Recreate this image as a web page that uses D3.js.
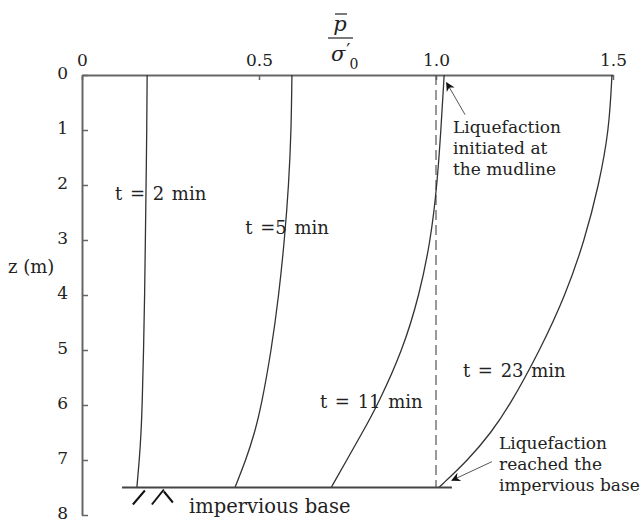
<!DOCTYPE html>
<html>
<head>
<meta charset="utf-8">
<script src="https://cdn.jsdelivr.net/npm/d3@7"></script>
<style>
  body { margin: 0; background: #fff; }
  text { font-family: "DejaVu Serif", serif; fill: #222; }
</style>
</head>
<body>
<svg id="chart" width="643" height="523"></svg>
<script>
// depth below mudline (m)
const depths = [0, 1, 2, 3, 4, 5, 6, 6.5, 7, 7.5];

// normalised pore pressure p/sigma'0 at each depth
const t2 = [0.184, 0.183, 0.181, 0.179, 0.177, 0.174, 0.170, 0.167, 0.162, 0.155];
const t5 = [0.593, 0.591, 0.584, 0.572, 0.556, 0.535, 0.507, 0.488, 0.463, 0.432];
const t11 = [1.023, 1.014, 1.003, 0.985, 0.953, 0.906, 0.835, 0.792, 0.748, 0.704];
const t23 = [1.497, 1.489, 1.460, 1.420, 1.366, 1.294, 1.209, 1.156, 1.091, 1.008];

const xTicks = [0, 0.5, 1.0, 1.5];
const xTickLabels = ["0", "0.5", "1.0", "1.5"];
const yTicks = [0, 1, 2, 3, 4, 5, 6, 7, 8];

const curveLabels = [
  { text: "t = 2 min", x: 0.093, z: 2.16 },
  { text: "t =5 min", x: 0.461, z: 2.78 },
  { text: "t = 11 min", x: 0.672, z: 5.93 },
  { text: "t = 23 min", x: 1.076, z: 5.38 }
];

const baseDepth = 7.5;
const baseExtent = [0.113, 1.045];

const svg = d3.select("#chart");

const x = d3.scaleLinear().domain([0, 1.5]).range([82, 613]);
const y = d3.scaleLinear().domain([0, 8]).range([75, 515]);

// arrowhead
svg.append("defs").append("marker")
  .attr("id", "head")
  .attr("viewBox", "0 0 10 10")
  .attr("refX", 9).attr("refY", 5)
  .attr("markerWidth", 12).attr("markerHeight", 9)
  .attr("markerUnits", "userSpaceOnUse")
  .attr("orient", "auto")
  .append("path")
  .attr("d", "M0,0 L10,5 L0,10 L3,5 Z")
  .attr("fill", "#111");

// top axis
const xAxis = svg.append("g")
  .attr("transform", `translate(0,${y(0)})`)
  .call(d3.axisTop(x).tickValues(xTicks)
    .tickFormat((d, i) => xTickLabels[i])
    .tickSizeInner(-5).tickSizeOuter(0).tickPadding(9));

// left axis
const yAxis = svg.append("g")
  .attr("transform", `translate(${x(0)},0)`)
  .call(d3.axisLeft(y).tickValues(yTicks)
    .tickSizeInner(-6).tickSizeOuter(0).tickPadding(14));
yAxis.selectAll(".tick text").attr("dy", "0.2em");

[xAxis, yAxis].forEach(a => {
  a.select(".domain").attr("stroke", "#666").attr("stroke-width", 2);
  a.selectAll(".tick line").attr("stroke", "#666").attr("stroke-width", 1.5);
  a.selectAll(".tick text")
    .style("font-family", "DejaVu Serif, serif")
    .style("font-size", "17px")
    .attr("fill", "#222");
});

// dashed line at p/sigma = 1
svg.append("line")
  .attr("x1", x(1)).attr("x2", x(1))
  .attr("y1", y(0)).attr("y2", y(baseDepth))
  .attr("stroke", "#555").attr("stroke-width", 1.2)
  .attr("stroke-dasharray", "10,5");

// isochrones
const line = d3.line()
  .x(d => x(d[0]))
  .y(d => y(d[1]))
  .curve(d3.curveBasis);

[t2, t5, t11, t23].forEach(vals => {
  svg.append("path")
    .datum(vals.map((v, i) => [v, depths[i]]))
    .attr("fill", "none")
    .attr("stroke", "#333")
    .attr("stroke-width", 1.3)
    .attr("d", line);
});

// impervious base
svg.append("line")
  .attr("x1", x(baseExtent[0])).attr("x2", x(baseExtent[1]))
  .attr("y1", y(baseDepth)).attr("y2", y(baseDepth))
  .attr("stroke", "#444").attr("stroke-width", 1.8);

const hx = x(0.155), hy = y(baseDepth);
const hatch = [
  [hx - 4, hy + 17, hx + 8, hy + 3],
  [hx + 15, hy + 17, hx + 27, hy + 2],
  [hx + 27, hy + 4, hx + 36, hy + 15]
];
svg.selectAll(".hatch").data(hatch).join("line")
  .attr("x1", d => d[0]).attr("y1", d => d[1])
  .attr("x2", d => d[2]).attr("y2", d => d[3])
  .attr("stroke", "#111").attr("stroke-width", 2);

svg.append("text")
  .attr("x", 189).attr("y", hy + 25)
  .style("font-size", "19.5px")
  .text("impervious base");

// curve labels
svg.selectAll(".clabel").data(curveLabels).join("text")
  .attr("x", d => x(d.x)).attr("y", d => y(d.z) + 6.5)
  .style("font-size", "18px")
  .style("word-spacing", "2px")
  .text(d => d.text);

// axis titles
svg.append("text")
  .attr("x", 8).attr("y", 273)
  .style("font-size", "18px")
  .text("z (m)");

const tx = 340;
svg.append("text")
  .attr("x", tx).attr("y", 31)
  .attr("text-anchor", "middle")
  .style("font-size", "21px").style("font-style", "italic")
  .text("p");
svg.append("line")
  .attr("x1", tx - 5).attr("x2", tx + 7)
  .attr("y1", 14).attr("y2", 14)
  .attr("stroke", "#222").attr("stroke-width", 1.2);
svg.append("line")
  .attr("x1", 328).attr("x2", 353)
  .attr("y1", 38).attr("y2", 38)
  .attr("stroke", "#222").attr("stroke-width", 1.2);
const sig = svg.append("text")
  .attr("x", 331).attr("y", 61)
  .style("font-size", "21px");
sig.append("tspan").style("font-style", "italic").text("σ");
sig.append("tspan").attr("dx", 1).attr("dy", -4).style("font-size", "18px").text("′");
sig.append("tspan").attr("dx", -1).attr("dy", 12).style("font-size", "14px").text("0");

// annotations
const notes = [
  { lines: ["Liquefaction", "initiated at", "the mudline"], x: 1.048, z: 1.06,
    from: [1.082, 0.72], to: [1.03, 0.14] },
  { lines: ["Liquefaction", "reached the", "impervious base"], x: 1.178, z: 6.8,
    from: [1.158, 7.03], to: [1.045, 7.37] }
];

notes.forEach(n => {
  svg.append("line")
    .attr("x1", x(n.from[0])).attr("y1", y(n.from[1]))
    .attr("x2", x(n.to[0])).attr("y2", y(n.to[1]))
    .attr("stroke", "#555").attr("stroke-width", 1)
    .attr("marker-end", "url(#head)");
  svg.append("text")
    .attr("x", x(n.x)).attr("y", y(n.z))
    .style("font-size", "17px")
    .selectAll("tspan").data(n.lines).join("tspan")
    .attr("x", x(n.x))
    .attr("dy", (d, i) => i === 0 ? 0 : 21)
    .text(d => d);
});
</script>
</body>
</html>
